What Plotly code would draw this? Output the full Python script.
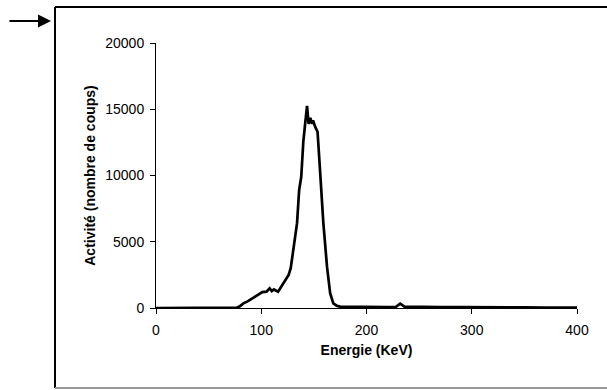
import plotly.graph_objects as go

# Data
energie = [0, 20, 50, 70, 77, 80, 83, 87, 90, 94, 98, 101, 105, 108, 110, 112, 116, 120, 124, 126,
           128, 131, 134, 136, 138, 140, 142, 143.5, 145, 146.6, 148.2, 149.2, 151.4, 153.5,
           156, 159, 162.5, 165.5, 168.5, 172, 175, 180, 190, 200, 210, 220, 228, 232, 236,
           245, 255, 270, 290, 310, 315, 330, 350, 370, 385, 400]
activite = [0, 0, 0, 10, 30, 150, 350, 500, 650, 850, 1100, 1200, 1230, 1480, 1280, 1400, 1230, 1730,
            2150, 2500, 3000, 4600, 6400, 8900, 9900, 12600, 14400, 15250, 13900, 14350, 13900,
            14150, 13650, 13300, 10200, 6400, 3100, 1100, 350, 160, 100, 90, 80, 70, 80, 60, 90,
            330, 110, 90, 70, 60, 60, 70, 50, 40, 40, 30, 30, 30]

x_ticks = [0, 100, 200, 300, 400]
y_ticks = [0, 5000, 10000, 15000, 20000]
y_tick_labels = ["0", "5000", "10000", "15000", "20000"]

W, H = 607, 390
L, R, T, B = 156, 30, 43, 82
pw, ph = W - L - R, H - T - B

def px(x):
    return (x - L) / pw

def py(y):
    return (H - B - y) / ph

fig = go.Figure(go.Scatter(x=energie, y=activite, mode="lines",
                           line=dict(color="black", width=2.7), hoverinfo="skip"))

font = dict(family="Liberation Sans, Arial, sans-serif", size=14, color="black")

fig.update_layout(
    width=W, height=H, margin=dict(l=L, r=R, t=T, b=B),
    paper_bgcolor="white", plot_bgcolor="white", showlegend=False,
    font=font,
    xaxis=dict(range=[0, 400], tickvals=x_ticks, ticktext=[str(v) for v in x_ticks],
               ticks="outside", ticklen=5, tickcolor="black", ticklabelstandoff=4,
               showline=True, linecolor="black", linewidth=1, showgrid=False, zeroline=False,
               title=dict(text="<b>Energie (KeV)</b>", font=font, standoff=8),
               tickfont=font),
    yaxis=dict(range=[0, 20000], tickvals=y_ticks, ticktext=y_tick_labels,
               ticks="outside", ticklen=5, tickcolor="black", ticklabelstandoff=3,
               showline=True, linecolor="black", linewidth=1, showgrid=False, zeroline=False,
               title=dict(text="<b>Activité (nombre de coups)</b>", font=font, standoff=6),
               tickfont=font),
    shapes=[
        # outer frame (left, top, bottom); right side lies beyond the picture
        dict(type="line", xref="paper", yref="paper", x0=px(55), x1=px(55), y0=py(7), y1=py(388),
             line=dict(color="black", width=2)),
        dict(type="line", xref="paper", yref="paper", x0=px(55), x1=px(612), y0=py(7), y1=py(7),
             line=dict(color="black", width=2)),
        dict(type="line", xref="paper", yref="paper", x0=px(55), x1=px(612), y0=py(388), y1=py(388),
             line=dict(color="#999999", width=2)),
    ],
    annotations=[
        dict(xref="paper", yref="paper", x=px(51), y=py(21), ax=-43, ay=0,
             showarrow=True, arrowhead=2, arrowsize=1.3, arrowwidth=2, arrowcolor="black", text=""),
    ],
)

fig.write_html("out.html", config={"displayModeBar": False},
               post_script="document.body.style.margin='0';")
